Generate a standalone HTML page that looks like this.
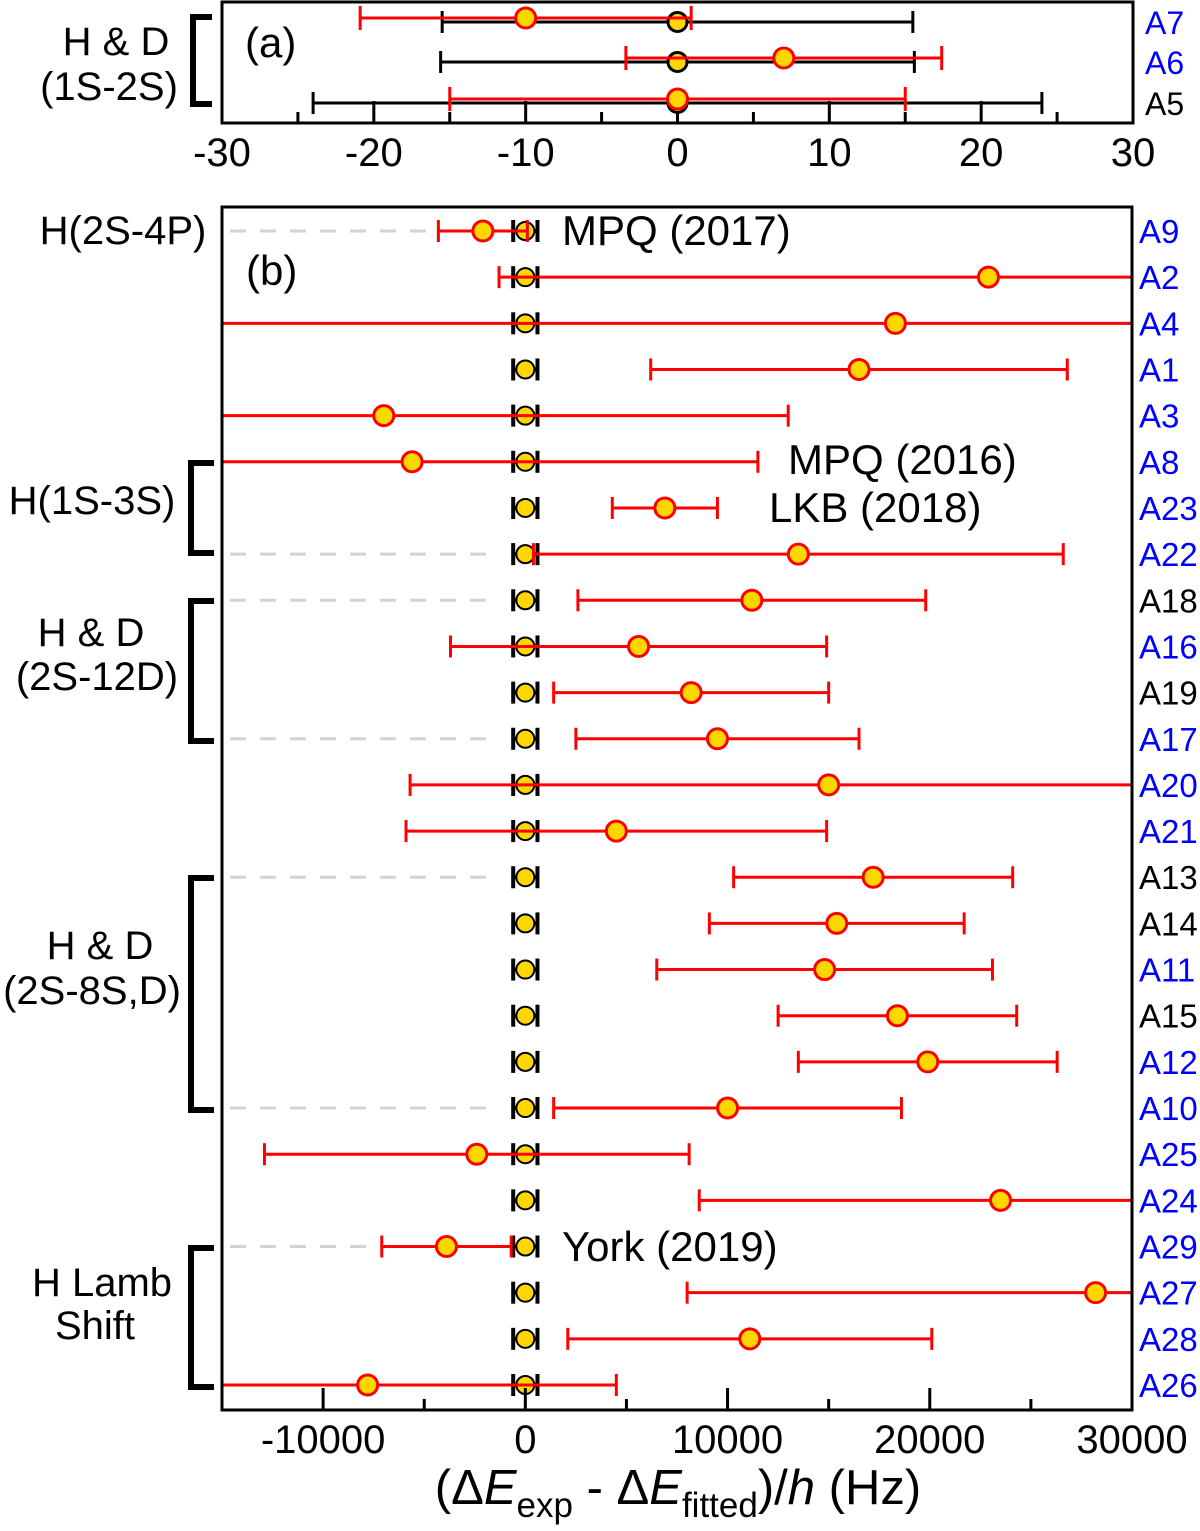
<!DOCTYPE html>
<html><head><meta charset="utf-8"><style>
html,body{margin:0;padding:0;background:#fff}
svg{display:block;font-family:"Liberation Sans",Arial,sans-serif}
</style></head><body>
<svg id="fig" width="1200" height="1531" viewBox="0 0 1200 1531" xmlns="http://www.w3.org/2000/svg">
<g id="pa"></g>
<g id="pb"></g>
</svg>
<script>
// Panel (a) data (Hz)
const aLabels = ["A7","A6","A5"];
const aBlue = [true,true,false];
const aBlackVal = [0,0,0];
const aBlackErr = [15.5,15.6,24];
const aRedVal = [-10,7,0];
const aRedErr = [10.9,10.4,15];
const aTicks = [-30,-20,-10,0,10,20,30];

// Panel (b) data (Hz)
const bLabels = ["A9","A2","A4","A1","A3","A8","A23","A22","A18","A16","A19","A17","A20","A21","A13","A14","A11","A15","A12","A10","A25","A24","A29","A27","A28","A26"];
const bBlack = ["A18","A19","A13","A14","A15"];
const bRedVal = [-2100,22900,18300,16500,-7000,-5600,6900,13500,11200,5600,8200,9500,15000,4500,17200,15400,14800,18400,19900,10000,-2400,23500,-3900,28200,11100,-7800];
const bRedErr = [2200,24200,40000,10300,20000,17100,2600,13100,8600,9300,6800,7000,20700,10400,6900,6300,8300,5900,6400,8600,10500,14900,3200,20200,9000,12300];
const bBlackErr = 600;
const bTicks = [-10000,0,10000,20000,30000];
const bMinor = [-15000,-5000,5000,15000,25000];
const dashedRows = ["A9","A22","A18","A17","A13","A10","A29"];

const NS="http://www.w3.org/2000/svg";
function mk(parent,tag,attrs,text){const e=document.createElementNS(NS,tag);for(const k in attrs)e.setAttribute(k,attrs[k]);if(text!==undefined)e.textContent=text;parent.appendChild(e);return e;}
function errbar(g,x0,x1,y,col,capH,w){
  mk(g,'line',{x1:x0,x2:x1,y1:y,y2:y,stroke:col,'stroke-width':w});
  mk(g,'line',{x1:x0,x2:x0,y1:y-capH,y2:y+capH,stroke:col,'stroke-width':w});
  mk(g,'line',{x1:x1,x2:x1,y1:y-capH,y2:y+capH,stroke:col,'stroke-width':w});
}

// ---------- Panel a ----------
const pa=document.getElementById('pa');
const aL=222,aR=1133,aT=2,aB=123;
const ax=v=>aL+(v+30)/60*(aR-aL);
const aRowY=[22,62,103];
for(let v=-25;v<30;v+=10){mk(pa,'line',{x1:ax(v),x2:ax(v),y1:aB,y2:aB-11,stroke:'#000','stroke-width':3});}
for(const v of aTicks){mk(pa,'line',{x1:ax(v),x2:ax(v),y1:aB,y2:aB-22,stroke:'#000','stroke-width':3});}
for(let i=0;i<aLabels.length;i++){
  const y=aRowY[i];
  const gb=mk(pa,'g',{});
  
  
  errbar(gb,ax(aBlackVal[i]-aBlackErr[i]),ax(aBlackVal[i]+aBlackErr[i]),y,'#000',11,3);
  mk(gb,'circle',{cx:ax(aBlackVal[i]),cy:y,r:9.5,fill:'#ffd700',stroke:'#000','stroke-width':3});
  const gr=mk(pa,'g',{});
  
  
  errbar(gr,ax(aRedVal[i]-aRedErr[i]),ax(aRedVal[i]+aRedErr[i]),y-4,'#f00',12,3);
  mk(gr,'circle',{cx:ax(aRedVal[i]),cy:y-4,r:10,fill:'#ffd700',stroke:'#f00','stroke-width':3});
  const t=mk(pa,'text',{x:1145,y:y+12,'font-size':32,fill:aBlue[i]?'#00f':'#000'},aLabels[i]);
  
  
}
const fa=mk(pa,'rect',{x:aL,y:aT,width:aR-aL,height:aB-aT,fill:'none',stroke:'#000','stroke-width':3});


for(const v of aTicks){
  const t=mk(pa,'text',{x:ax(v),y:166,'font-size':40,'text-anchor':'middle'},String(v));
  
  
}
mk(pa,'text',{x:245,y:57,'font-size':42},'(a)');
mk(pa,'text',{x:116,y:55,'font-size':40,'text-anchor':'middle'},'H & D');
mk(pa,'text',{x:109,y:100,'font-size':40,'text-anchor':'middle'},'(1S-2S)');
mk(pa,'path',{d:'M212,17 H193 V104 H212',fill:'none',stroke:'#000','stroke-width':6});

// ---------- Panel b ----------
const pb=document.getElementById('pb');
const bL=222,bR=1132,bT=207,bB=1410;
const bx=v=>bL+(v+15000)/45000*(bR-bL);
const by=i=>231+i*46.16;
for(const lab of dashedRows){
  const i=bLabels.indexOf(lab);
  const d=mk(pb,'line',{x1:230,x2:495,y1:by(i),y2:by(i),stroke:'#d3d3d3','stroke-width':3,'stroke-dasharray':'16,14'});
  
  
}
const clip=mk(pb,'clipPath',{id:'cb'});mk(clip,'rect',{x:bL,y:bT,width:bR-bL,height:bB-bT});
const gdata=mk(pb,'g',{'clip-path':'url(#cb)'});
for(let i=0;i<bLabels.length;i++){
  const y=by(i);
  const gb=mk(gdata,'g',{});
  
  
  errbar(gb,bx(-bBlackErr),bx(bBlackErr),y,'#000',11,4);
  mk(gb,'circle',{cx:bx(0),cy:y,r:9,fill:'#ffd700',stroke:'#000','stroke-width':2});
  const gr=mk(gdata,'g',{});
  
  
  errbar(gr,bx(bRedVal[i]-bRedErr[i]),bx(bRedVal[i]+bRedErr[i]),y,'#f00',11,3);
  mk(gr,'circle',{cx:bx(bRedVal[i]),cy:y,r:10,fill:'#ffd700',stroke:'#f00','stroke-width':3});
  const t=mk(pb,'text',{x:1139,y:y+12,'font-size':33,fill:bBlack.includes(bLabels[i])?'#000':'#00f'},bLabels[i]);
  
  
}
const fb=mk(pb,'rect',{x:bL,y:bT,width:bR-bL,height:bB-bT,fill:'none',stroke:'#000','stroke-width':3});


for(const v of bTicks){
  mk(pb,'line',{x1:bx(v),x2:bx(v),y1:bB,y2:bB-22,stroke:'#000','stroke-width':3});
  const t=mk(pb,'text',{x:bx(v),y:1453,'font-size':40,'text-anchor':'middle'},String(v));
  
  
}
for(const v of bMinor){mk(pb,'line',{x1:bx(v),x2:bx(v),y1:bB,y2:bB-11,stroke:'#000','stroke-width':3});}
const xt=mk(pb,'text',{x:678,y:1504,'font-size':49,'text-anchor':'middle'});


xt.innerHTML='(Δ<tspan font-style="italic">E</tspan><tspan font-size="35" dy="13">exp</tspan><tspan dy="-13"> - Δ</tspan><tspan font-style="italic">E</tspan><tspan font-size="35" dy="13">fitted</tspan><tspan dy="-13">)/</tspan><tspan font-style="italic">h</tspan> (Hz)';
mk(pb,'text',{x:246,y:285,'font-size':42},'(b)');
const ann=[["MPQ (2017)",562,245],["MPQ (2016)",788,474],["LKB (2018)",769,522],["York (2019)",562,1261]];
for(const a of ann){const t=mk(pb,'text',{x:a[1],y:a[2],'font-size':42},a[0]);}
mk(pb,'text',{x:123,y:244,'font-size':40,'text-anchor':'middle'},'H(2S-4P)');
mk(pb,'text',{x:92,y:514,'font-size':40,'text-anchor':'middle'},'H(1S-3S)');
mk(pb,'text',{x:91,y:646,'font-size':40,'text-anchor':'middle'},'H & D');
mk(pb,'text',{x:97,y:690,'font-size':40,'text-anchor':'middle'},'(2S-12D)');
mk(pb,'text',{x:100,y:959,'font-size':40,'text-anchor':'middle'},'H & D');
mk(pb,'text',{x:92,y:1004,'font-size':40,'text-anchor':'middle'},'(2S-8S,D)');
mk(pb,'text',{x:102,y:1296,'font-size':40,'text-anchor':'middle'},'H Lamb');
mk(pb,'text',{x:95,y:1339,'font-size':40,'text-anchor':'middle'},'Shift');
const br=[[463,553],[601,741],[878,1110],[1248,1387]];
for(const b of br){const p=mk(pb,'path',{d:`M214,${b[0]} H191 V${b[1]} H214`,fill:'none',stroke:'#000','stroke-width':6});}
</script>
</body></html>
